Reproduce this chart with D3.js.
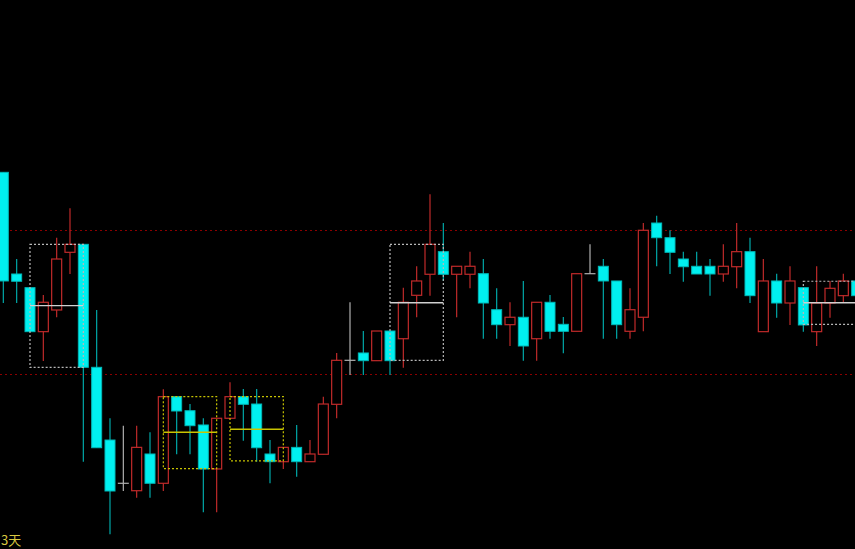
<!DOCTYPE html>
<html><head><meta charset="utf-8">
<script src="https://cdn.jsdelivr.net/npm/d3@7"></script>
<style>html,body{margin:0;padding:0;background:#000;overflow:hidden}</style>
</head><body>
<svg id="c" width="855" height="549"></svg>
<script>
// candle data (index order)
const opens  = [128.01,113.89,111.99,105.88,108.89,116.90,118.01,100.93,90.83,84.82,83.79,88.89,84.82,96.85,94.90,92.92,86.81,93.85,96.85,95.83,88.89,87.82,89.81,87.82,88.85,95.79,101.90,102.92,101.85,105.97,104.90,110.93,113.85,116.99,113.85,113.85,113.93,108.93,106.85,107.88,104.90,109.96,106.90,105.93,113.93,114.96,112.92,105.93,107.88,120.97,118.93,115.97,114.96,114.96,113.89,114.90,116.99,105.88,112.92,109.86,111.99,105.88,109.86,110.88,112.92];
const closes = [112.92,112.88,105.88,109.96,115.97,118.01,100.93,89.76,83.75,84.82,89.81,84.82,96.85,94.86,92.82,86.81,93.85,96.85,95.79,89.76,87.82,89.81,87.82,88.89,95.83,101.90,101.90,101.85,105.97,101.85,109.96,112.92,118.01,113.85,114.96,114.96,109.86,106.85,107.88,103.89,109.96,105.93,105.93,113.93,113.93,112.92,106.85,108.93,119.96,118.93,116.90,114.90,113.89,113.89,114.96,116.99,110.88,112.92,109.86,112.92,106.81,109.86,111.90,112.92,110.88];
const highs  = [128.01,115.97,111.99,110.97,118.93,123.01,118.01,108.89,93.85,92.82,92.82,91.90,97.88,96.85,95.83,93.85,93.85,98.85,97.92,97.92,90.83,89.81,92.92,90.83,96.85,102.92,109.96,105.97,105.97,105.97,111.99,114.96,124.96,120.97,114.96,116.99,115.97,111.90,109.96,112.92,109.96,110.97,107.92,113.93,118.01,115.97,112.92,111.90,120.97,121.99,119.96,116.99,116.99,115.97,118.01,120.97,118.93,115.97,113.93,114.96,111.99,114.96,112.92,113.93,112.92];
const lows   = [109.86,109.86,105.88,101.81,107.88,113.89,87.82,89.76,77.74,83.75,82.82,82.82,83.75,88.85,88.85,80.79,80.79,93.85,90.74,87.82,84.82,86.81,85.74,87.82,88.85,93.85,99.86,99.86,101.85,99.86,100.88,107.88,110.88,112.92,107.88,111.90,104.90,104.90,103.89,101.85,101.85,104.90,102.88,105.93,113.93,104.90,104.90,104.90,105.93,114.96,113.89,112.82,113.89,110.88,112.82,111.90,109.86,105.88,107.82,106.81,105.88,103.89,107.82,109.86,110.88];

// pattern boxes: start index, end index, top, bottom, middle, kind
const boxStart = [2, 12, 17, 29, 60];
const boxEnd   = [6, 16, 21, 33, 64];
const boxTop   = [118.01, 96.85, 96.85, 118.01, 112.88];
const boxBot   = [100.93, 86.85, 87.92, 101.90, 106.90];
const boxMid   = [109.49, 91.90, 92.32, 109.90, 109.90];
const boxKind  = ["w", "y", "y", "w", "w"];

// horizontal levels
const levels = [120, 100];
const cornerLabel = "3天";

const svg = d3.select("#c");
const W = 855, H = 549;
svg.append("rect").attr("width", W).attr("height", H).attr("fill", "#000");

const x = d3.scaleLinear().domain([0, 64]).range([3.33, 856.67]);
const y = d3.scaleLinear().domain([75.694, 151.944]).range([H, 0]);

// levels
svg.selectAll("line.lvl").data(levels).join("line")
  .attr("x1", 0).attr("x2", W)
  .attr("y1", d => Math.round(y(d)) + 0.5).attr("y2", d => Math.round(y(d)) + 0.5)
  .attr("stroke", "#8c0000").attr("stroke-width", 1).attr("stroke-dasharray", "2,3");

const data = opens.map((o, i) => ({i, o, c: closes[i], h: highs[i], l: lows[i]}));
const bw = 11;
const g = svg.append("g");

data.forEach(d => {
  const cx = x(d.i);
  const up = d.c > d.o, doji = d.c === d.o;
  const wcol = doji ? "#b0b0b0" : (up ? "#c02a2a" : "#00a8a8");
  const top = y(Math.max(d.o, d.c)), bot = y(Math.min(d.o, d.c));
  g.append("line").attr("x1", cx).attr("x2", cx)
    .attr("y1", y(d.h)).attr("y2", y(d.l))
    .attr("stroke", wcol).attr("stroke-width", 1.2);
  if (doji) {
    g.append("line").attr("x1", cx - bw/2).attr("x2", cx + bw/2)
      .attr("y1", top).attr("y2", top).attr("stroke", "#b0b0b0").attr("stroke-width", 1.2);
  } else if (up) {
    g.append("rect").attr("x", cx - bw/2 + 0.5).attr("width", bw - 1)
      .attr("y", top).attr("height", Math.max(1, bot - top))
      .attr("fill", "#000").attr("stroke", "#c02a2a").attr("stroke-width", 1.2);
  } else {
    g.append("rect").attr("x", cx - bw/2 + 0.5).attr("width", bw - 1)
      .attr("y", top).attr("height", Math.max(1, bot - top))
      .attr("fill", "#00f0f0").attr("stroke", "#00b8b8").attr("stroke-width", 1);
  }
});

// boxes
boxStart.forEach((s, k) => {
  const col = boxKind[k] === "y" ? "#c8c400" : "#b8b8b8";
  const midCol = boxKind[k] === "y" ? "#c8c400" : "#d0d0d0";
  const x0 = x(s), x1 = x(boxEnd[k]);
  const yt = y(boxTop[k]), yb = y(boxBot[k]), ym = y(boxMid[k]);
  svg.append("rect").attr("x", x0).attr("y", yt)
    .attr("width", x1 - x0).attr("height", yb - yt)
    .attr("fill", "none").attr("stroke", col).attr("stroke-width", 1.2)
    .attr("stroke-dasharray", "2,2");
  svg.append("line").attr("x1", x0).attr("x2", x1).attr("y1", ym).attr("y2", ym)
    .attr("stroke", midCol).attr("stroke-width", 1.4);
});

svg.append("text").attr("x", 1).attr("y", 545).attr("text-anchor", "start")
  .attr("fill", "#d8c840").attr("font-size", 13)
  .attr("font-family", "Noto Sans CJK SC, sans-serif").text(cornerLabel);
</script>
</body></html>
